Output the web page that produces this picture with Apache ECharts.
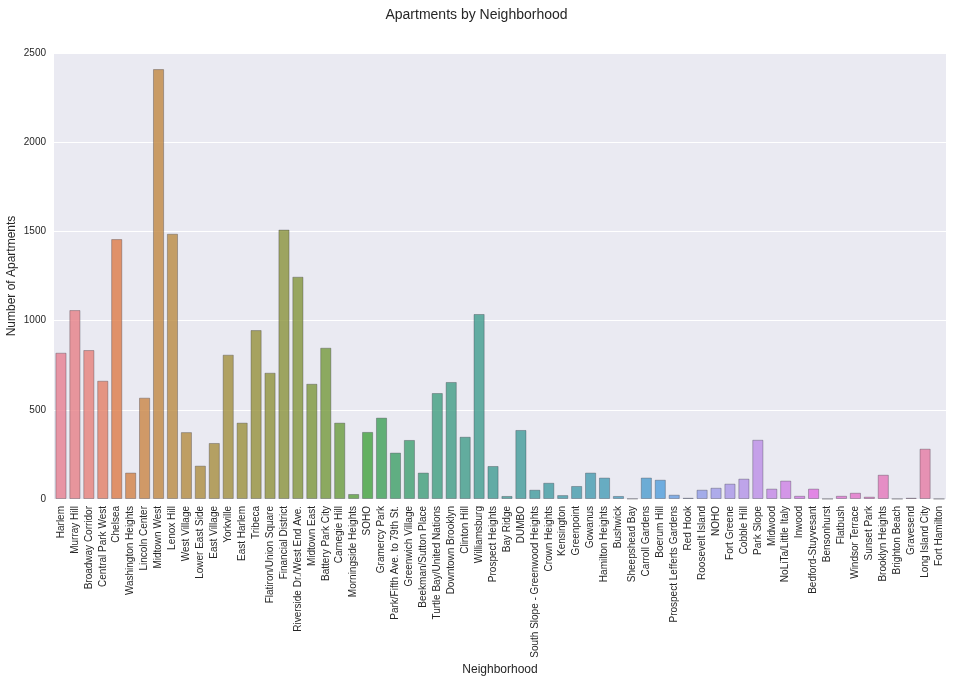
<!DOCTYPE html>
<html>
<head>
<meta charset="UTF-8">
<title>Apartments by Neighborhood</title>
<script src="https://cdn.jsdelivr.net/npm/echarts@6/dist/echarts.min.js"></script>
<style type="text/css">
body{margin:0;padding:0;background:#fff;}
#main{width:953px;height:682px;}
</style>
</head>
<body>
<div id="main"></div>
<script type="text/javascript">
// neighborhoods, in the order they are drawn
var neighborhoods = ['Harlem','Murray Hill','Broadway Corridor','Central Park West','Chelsea','Washington Heights',
  'Lincoln Center','Midtown West','Lenox Hill','West Village','Lower East Side','East Village','Yorkville',
  'East Harlem','Tribeca','Flatiron/Union Square','Financial District','Riverside Dr./West End Ave.',
  'Midtown East','Battery Park City','Carnegie Hill','Morningside Heights','SOHO','Gramercy Park',
  'Park/Fifth Ave. to 79th St.','Greenwich Village','Beekman/Sutton Place','Turtle Bay/United Nations',
  'Downtown Brooklyn','Clinton Hill','Williamsburg','Prospect Heights','Bay Ridge','DUMBO',
  'South Slope - Greenwood Heights','Crown Heights','Kensington','Greenpoint','Gowanus','Hamilton Heights',
  'Bushwick','Sheepshead Bay','Carroll Gardens','Boerum Hill','Prospect Lefferts Gardens','Red Hook',
  'Roosevelt Island','NOHO','Fort Greene','Cobble Hill','Park Slope','Midwood','NoLiTa/Little Italy',
  'Inwood','Bedford-Stuyvesant','Bensonhurst','Flatbush','Windsor Terrace','Sunset Park',
  'Brooklyn Heights','Brighton Beach','Gravesend','Long Island City','Fort Hamilton'];

// number of apartments
var apartments = [820,1059,835,663,1457,148,
  568,2410,1487,375,187,314,809,
  428,947,708,1510,1246,
  646,848,428,28,376,456,
  260,331,148,594,
  656,349,1037,185,17,387,
  52,91,22,73,148,120,
  17,2,120,108,24,7,
  52,63,86,114,332,58,103,
  18,58,1,18,35,13,
  136,1,7,282,1];

var yTicks = [0, 500, 1000, 1500, 2000, 2500];

// seaborn-like husl palette, desaturated like barplot does
function huslPalette(n) {
  var M = [[3.240969941904521, -1.537383177570093, -0.498610760293],
           [-0.96924363628087, 1.87596750150772, 0.041555057407175],
           [0.055630079696993, -0.20397695888897, 1.056971514242878]];
  var refU = 0.19783000664283, refV = 0.46831999493879;
  var kappa = 903.2962962, epsilon = 0.0088564516;
  function maxChroma(L, H) {
    var hrad = H / 360 * Math.PI * 2;
    var sub1 = Math.pow(L + 16, 3) / 1560896;
    var sub2 = sub1 > epsilon ? sub1 : L / kappa;
    var best = Infinity;
    for (var c = 0; c < 3; c++) {
      var m1 = M[c][0], m2 = M[c][1], m3 = M[c][2];
      for (var t = 0; t < 2; t++) {
        var top1 = (284517 * m1 - 94839 * m3) * sub2;
        var top2 = (838422 * m3 + 769860 * m2 + 731718 * m1) * L * sub2 - 769860 * t * L;
        var bottom = (632260 * m3 - 126452 * m2) * sub2 + 126452 * t;
        var sl = top1 / bottom, ic = top2 / bottom;
        var len = ic / (Math.sin(hrad) - sl * Math.cos(hrad));
        if (len >= 0 && len < best) best = len;
      }
    }
    return best;
  }
  function toRgb(H, S, L) {
    var C = maxChroma(L, H) / 100 * S;
    var hrad = H / 360 * Math.PI * 2;
    var U = Math.cos(hrad) * C, V = Math.sin(hrad) * C;
    var Y = L > 8 ? Math.pow((L + 16) / 116, 3) : L / kappa;
    var vu = U / (13 * L) + refU, vv = V / (13 * L) + refV;
    var X = 0 - (9 * Y * vu) / ((vu - 4) * vv - vu * vv);
    var Z = (9 * Y - 15 * vv * Y - vv * X) / (3 * vv);
    var out = [];
    for (var i = 0; i < 3; i++) {
      var v = M[i][0] * X + M[i][1] * Y + M[i][2] * Z;
      v = v <= 0.0031308 ? 12.92 * v : 1.055 * Math.pow(v, 1 / 2.4) - 0.055;
      out.push(Math.min(1, Math.max(0, v)));
    }
    return out;
  }
  function desat(rgb, p) {
    var r = rgb[0], g = rgb[1], b = rgb[2];
    var mx = Math.max(r, g, b), mn = Math.min(r, g, b);
    var l = (mx + mn) / 2, h = 0, s = 0;
    if (mx !== mn) {
      var d = mx - mn;
      s = l <= 0.5 ? d / (mx + mn) : d / (2 - mx - mn);
      var rc = (mx - r) / d, gc = (mx - g) / d, bc = (mx - b) / d;
      if (r === mx) h = bc - gc; else if (g === mx) h = 2 + rc - bc; else h = 4 + gc - rc;
      h = ((h / 6) % 1 + 1) % 1;
    }
    s = s * p;
    if (s === 0) return [l, l, l];
    var m2 = l <= 0.5 ? l * (1 + s) : l + s - l * s;
    var m1 = 2 * l - m2;
    function v(hue) {
      hue = ((hue % 1) + 1) % 1;
      if (hue < 1 / 6) return m1 + (m2 - m1) * hue * 6;
      if (hue < 0.5) return m2;
      if (hue < 2 / 3) return m1 + (m2 - m1) * (2 / 3 - hue) * 6;
      return m1;
    }
    return [v(h + 1 / 3), v(h), v(h - 1 / 3)];
  }
  var cols = [];
  for (var i = 0; i < n; i++) {
    var h = ((i / n) + 0.01) % 1 * 359;
    var rgb = desat(toRgb(h, 0.9 * 99, 0.65 * 99), 0.75);
    cols.push('rgb(' + rgb.map(function (x) { return Math.round(x * 255); }).join(',') + ')');
  }
  return cols;
}

var colors = huslPalette(neighborhoods.length);

var chart = echarts.init(document.getElementById('main'));
chart.setOption({
  backgroundColor: '#fff',
  animation: false,
  title: {
    text: 'Apartments by Neighborhood',
    left: 'center',
    top: 3,
    textStyle: { fontFamily: 'Liberation Sans', fontSize: 14, fontWeight: 'normal', color: '#262626' }
  },
  grid: { left: 54, right: 7, top: 53, bottom: 183, backgroundColor: '#EAEAF2', show: true, borderWidth: 0,
          outerBoundsMode: 'none', containLabel: false },
  xAxis: {
    type: 'category',
    data: neighborhoods,
    name: 'Neighborhood',
    nameLocation: 'middle',
    nameGap: 165,
    nameMoveOverlap: false,
    nameTextStyle: { fontFamily: 'Liberation Sans', fontSize: 12, color: '#262626' },
    axisLine: { show: false },
    axisTick: { show: false },
    axisLabel: { interval: 0, rotate: 90, margin: 7, fontFamily: 'Liberation Sans', fontSize: 10, color: '#262626' }
  },
  yAxis: {
    type: 'value',
    min: 0,
    max: yTicks[yTicks.length - 1],
    interval: 500,
    name: 'Number of Apartments',
    nameLocation: 'middle',
    nameGap: 36,
    nameMoveOverlap: false,
    nameTextStyle: { fontFamily: 'Liberation Sans', fontSize: 12, color: '#262626' },
    axisLine: { show: false },
    axisTick: { show: false },
    splitLine: { lineStyle: { color: '#ffffff', width: 1 } },
    axisLabel: { margin: 8, fontFamily: 'Liberation Sans', fontSize: 10, color: '#262626',
                 formatter: function (v) { return String(v); } }
  },
  series: [{
    type: 'bar',
    barCategoryGap: '20%',
    data: apartments.map(function (v, i) {
      return { value: v, itemStyle: { color: colors[i] } };
    }),
    itemStyle: { borderColor: 'rgba(50,50,60,0.4)', borderWidth: 1, opacity: 0.82 }
  }]
});
</script>
</body>
</html>
